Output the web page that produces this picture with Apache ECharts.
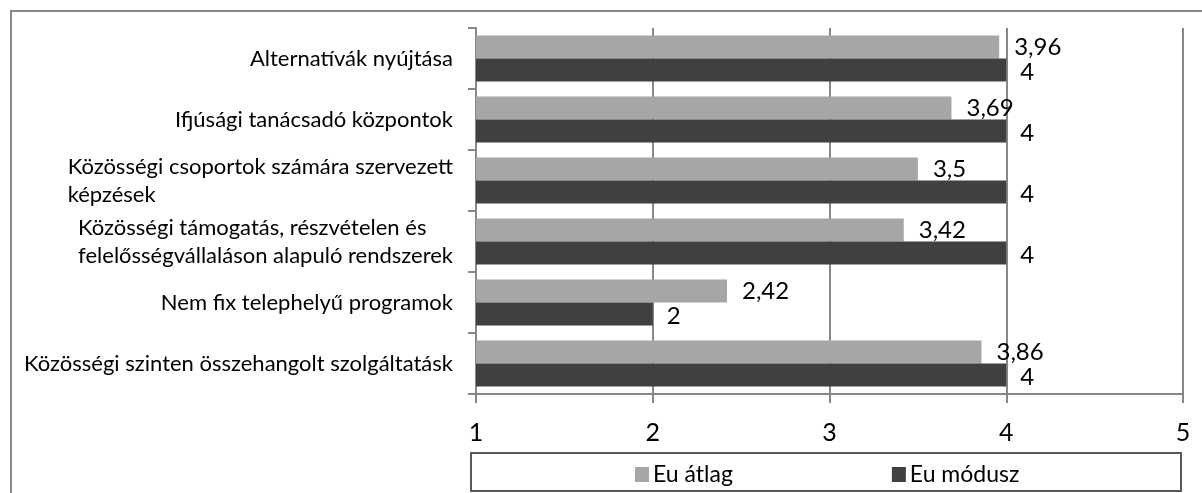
<!DOCTYPE html>
<html>
<head>
<meta charset="utf-8">
<script src="https://cdn.jsdelivr.net/npm/echarts@6/dist/echarts.min.js"></script>
<style>
html,body{margin:0;padding:0;background:#fff;}
#chart{width:1202px;height:493px;}
</style>
</head>
<body>
<div id="chart"></div>
<script>
const categories = [
  'Alternatívák nyújtása',
  'Ifjúsági tanácsadó központok',
  'Közösségi csoportok számára szervezett\nképzések',
  'Közösségi támogatás, részvételen és\nfelelősségvállaláson alapuló rendszerek',
  'Nem fix telephelyű programok',
  'Közösségi szinten összehangolt szolgáltatásk'
];
const euAtlag = [3.96, 3.69, 3.5, 3.42, 2.42, 3.86];
const euModusz = [4, 4, 4, 4, 2, 4];
const seriesNames = ['Eu átlag', 'Eu módusz'];
const xTicks = [1, 2, 3, 4, 5];

const FONT = 'Lato';
const gridColor = '#878787';
const fmt = p => String(p.value).replace('.', ',');

const chart = echarts.init(document.getElementById('chart'), null, {renderer: 'canvas'});
chart.setOption({
  animation: false,
  backgroundColor: '#ffffff',
  textStyle: {fontFamily: FONT},
  graphic: [
    {type: 'rect', silent: true, z: -10,
     shape: {x: 11, y: 11, width: 1400, height: 700},
     style: {fill: null, stroke: '#878787', lineWidth: 2}},
    {type: 'rect', silent: true, z: -5,
     shape: {x: 471, y: 453, width: 710, height: 38},
     style: {fill: '#fff', stroke: '#595959', lineWidth: 2}}
  ],
  grid: {left: 476, right: 19, top: 28, height: 366, containLabel: false},
  legend: {
    data: seriesNames,
    left: 630, top: 458,
    itemWidth: 14, itemHeight: 15, itemGap: 159,
    icon: 'rect',
    textStyle: {fontFamily: FONT, fontSize: 23, color: '#000', padding: [0,0,0,-1]}
  },
  xAxis: {
    type: 'value', min: xTicks[0], max: xTicks[xTicks.length - 1], interval: 1,
    axisLine: {show: true, lineStyle: {color: gridColor, width: 2}},
    axisTick: {show: true, length: 9, lineStyle: {color: gridColor, width: 2}},
    splitLine: {show: true, lineStyle: {color: gridColor, width: 2}},
    axisLabel: {fontFamily: FONT, fontSize: 25, color: '#000', margin: 26}
  },
  yAxis: {
    type: 'category', data: categories, inverse: true,
    axisLine: {show: true, lineStyle: {color: gridColor, width: 2}},
    axisTick: {show: true, length: 8, lineStyle: {color: gridColor, width: 2}},
    splitLine: {show: false},
    axisLabel: {
      margin: 23, color: '#000',
      formatter: v => v.split('\n').map(l => '{a|' + l + '}').join('\n'),
      rich: {a: {fontFamily: FONT, fontSize: 22, lineHeight: 28, align: 'left', color: '#000'}}
    }
  },
  series: [
    {
      name: seriesNames[0], type: 'bar', data: euAtlag, barWidth: 23, barGap: '0%',
      itemStyle: {color: '#a6a6a6'},
      label: {show: true, position: 'right', distance: 15, formatter: fmt,
              fontFamily: FONT, fontSize: 24, color: '#000'}
    },
    {
      name: seriesNames[1], type: 'bar', data: euModusz, barWidth: 23, barGap: '0%',
      itemStyle: {color: '#404040'},
      label: {show: true, position: 'right', distance: 14, formatter: fmt,
              fontFamily: FONT, fontSize: 24, color: '#000', offset: [0, 2]}
    }
  ]
});
</script>
</body>
</html>
